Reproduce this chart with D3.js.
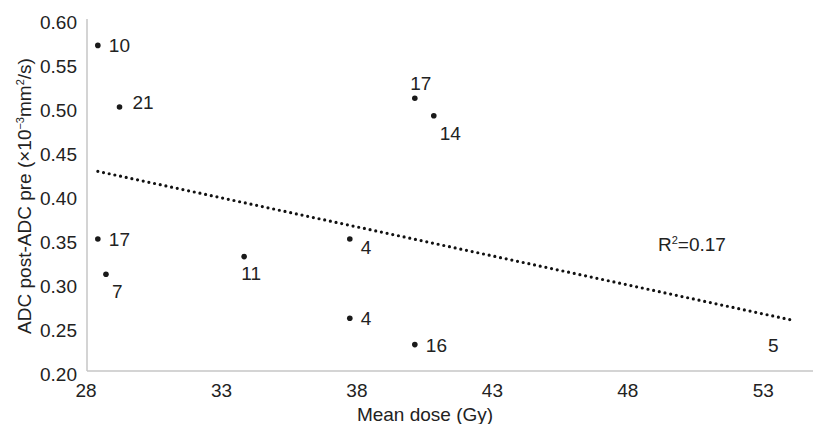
<!DOCTYPE html>
<html>
<head>
<meta charset="utf-8">
<script src="https://cdn.jsdelivr.net/npm/d3@7"></script>
<style>
    html, body { margin: 0; padding: 0; background: #fff; }
    svg text { font-family: "Liberation Sans", Arial, sans-serif; fill: #222; }
</style>
</head>
<body>
<div id="chart"></div>
<script>
// values
const doses = [28.4, 29.2, 28.4, 28.7, 33.8, 37.7, 37.7, 40.1, 40.1, 40.8, 54.0];
const adcDiff = [0.57, 0.50, 0.35, 0.31, 0.33, 0.35, 0.26, 0.23, 0.51, 0.49, 0.225];
const pointLabels = ["10", "21", "17", "7", "11", "4", "4", "16", "17", "14", "5"];
// where each label sits next to its point
const labelSide = ["right", "rightup", "right", "belowright", "below", "rightdown",
                   "right", "right", "above", "belowright", "left"];
// last point has no visible marker in the original
const markerShown = [true, true, true, true, true, true, true, true, true, true, false];

const xTicks = [28, 33, 38, 43, 48, 53];
const yTicks = [0.20, 0.25, 0.30, 0.35, 0.40, 0.45, 0.50, 0.55, 0.60];
const rSquaredText = "0.17";

const width = 813, height = 424;
const fontSize = 19;

let svg = d3.select("#chart").append("svg")
    .attr("width", width)
    .attr("height", height);

let x = d3.scaleLinear().domain([28, 55]).range([87, 818.5]);
let y = d3.scaleLinear().domain([0.20, 0.60]).range([371, 19]);

// axes lines (Excel style: light grey, no tick marks)
svg.append("line")
    .attr("x1", x(28)).attr("x2", width)
    .attr("y1", y(0.20)).attr("y2", y(0.20))
    .attr("stroke", "#c6c6c6").attr("stroke-width", 1.5);
svg.append("line")
    .attr("x1", x(28)).attr("x2", x(28))
    .attr("y1", y(0.60)).attr("y2", y(0.20))
    .attr("stroke", "#c6c6c6").attr("stroke-width", 1.5);

// tick labels
svg.selectAll(".ylab")
    .data(yTicks)
    .enter().append("text")
    .attr("class", "ylab")
    .attr("x", 77)
    .attr("y", d => y(d) + 10)
    .attr("text-anchor", "end")
    .attr("font-size", fontSize)
    .text(d => d.toFixed(2));

svg.selectAll(".xlab")
    .data(xTicks)
    .enter().append("text")
    .attr("class", "xlab")
    .attr("x", d => x(d) - 1)
    .attr("y", 397)
    .attr("text-anchor", "middle")
    .attr("font-size", fontSize)
    .text(d => d);

// axis titles
svg.append("text")
    .attr("x", 425).attr("y", 421)
    .attr("text-anchor", "middle")
    .attr("font-size", fontSize)
    .text("Mean dose (Gy)");

let yTitle = svg.append("text")
    .attr("transform", "translate(31,196) rotate(-90)")
    .attr("text-anchor", "middle")
    .attr("font-size", fontSize);
yTitle.append("tspan").text("ADC post-ADC pre (×10");
yTitle.append("tspan").attr("font-size", 11).attr("dy", -7).text("−3");
yTitle.append("tspan").attr("dy", 7).text("mm");
yTitle.append("tspan").attr("font-size", 11).attr("dy", -7).text("2");
yTitle.append("tspan").attr("dy", 7).text("/s)");

// linear trend line computed from the points
let n = doses.length;
let mx = d3.mean(doses), my = d3.mean(adcDiff);
let sxy = d3.sum(doses, (d, i) => (d - mx) * (adcDiff[i] - my));
let sxx = d3.sum(doses, d => (d - mx) * (d - mx));
let slope = sxy / sxx, icpt = my - slope * mx;
let xExt = d3.extent(doses);

svg.append("line")
    .attr("x1", x(xExt[0])).attr("y1", y(icpt + slope * xExt[0]))
    .attr("x2", x(xExt[1])).attr("y2", y(icpt + slope * xExt[1]))
    .attr("stroke", "#111")
    .attr("stroke-width", 3.2)
    .attr("stroke-linecap", "round")
    .attr("stroke-dasharray", "0,5.8");

// points
let idx = d3.range(n);
svg.selectAll(".dot")
    .data(idx.filter(i => markerShown[i]))
    .enter().append("circle")
    .attr("class", "dot")
    .attr("cx", i => x(doses[i]))
    .attr("cy", i => y(adcDiff[i]))
    .attr("r", 2.8)
    .attr("fill", "#1a1a1a");

// label offsets by side
let side = {
    right:      {dx: 11, dy: 7, anchor: "start"},
    rightup:    {dx: 13, dy: 2, anchor: "start"},
    rightdown:  {dx: 11, dy: 15, anchor: "start"},
    belowright: {dx: 6, dy: 24, anchor: "start"},
    below:      {dx: 7, dy: 23, anchor: "middle"},
    above:      {dx: 6, dy: -8, anchor: "middle"},
    left:       {dx: -18, dy: 3, anchor: "middle"}
};

svg.selectAll(".plab")
    .data(idx)
    .enter().append("text")
    .attr("class", "plab")
    .attr("x", i => x(doses[i]) + side[labelSide[i]].dx)
    .attr("y", i => y(adcDiff[i]) + side[labelSide[i]].dy)
    .attr("text-anchor", i => side[labelSide[i]].anchor)
    .attr("font-size", fontSize)
    .text(i => pointLabels[i]);

// R squared
let rsq = svg.append("text")
    .attr("x", 658).attr("y", 251)
    .attr("font-size", fontSize);
rsq.append("tspan").text("R");
rsq.append("tspan").attr("font-size", 11).attr("dy", -7).text("2");
rsq.append("tspan").attr("dy", 7).text("=" + rSquaredText);
</script>
</body>
</html>
